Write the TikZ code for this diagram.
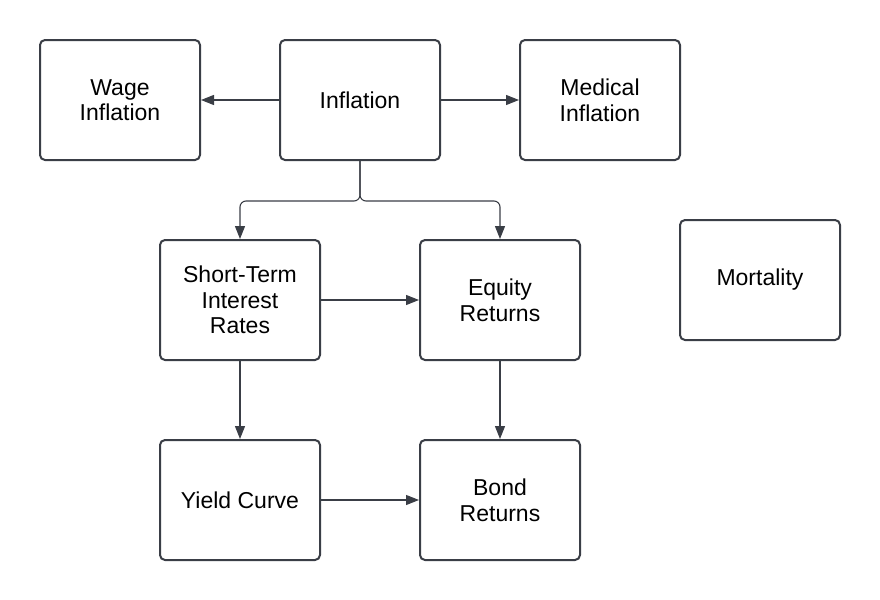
\documentclass[tikz,border=0pt]{standalone}
\usepackage{fontspec}
\setmainfont{Liberation Sans}
\usepackage{tikz}
\usetikzlibrary{positioning}
\usetikzlibrary{arrows.meta}

\definecolor{edgegray}{HTML}{3A3E46}

\begin{document}
\begin{tikzpicture}[
    node distance=100pt and 120pt, % Global setup of box spacing
    ]
% -------------------------------------------------
\tikzset{
  base/.style={draw=edgegray, line width=1pt, rounded corners=2.5pt, on grid, align=center,
    font=\fontsize{11.5}{12.8}\selectfont, text=black},
  proc/.style={base, rectangle, minimum width=80pt, minimum height=60pt},
  line/.style={draw=edgegray, line width=0.55pt, -{Triangle[length=6.5pt,width=5pt]}}
}

\useasboundingbox (0,0) rectangle (440pt,-300pt);

\node [proc] (infl) at (180pt,-50pt) {Inflation};
\node [proc, left=of infl] (wage) {Wage\\Inflation};
\node [proc, right=of infl] (med) {Medical\\Inflation};

\node [proc, below=of infl, xshift=-60pt] (short) {Short-Term\\Interest\\Rates};
\node [proc, right=130pt of short] (eq) {Equity\\Returns};
\node [proc, right=130pt of eq, yshift=10pt] (mort) {Mortality};

\node [proc, below=of short] (yield) {Yield Curve};
\node [proc, right=130pt of yield] (bond) {Bond\\Returns};

\coordinate [below=20pt of infl.south] (split);

\path [line] (infl) -- (wage);
\path [line] (infl) -- (med);
\path [line, rounded corners=3pt] (infl.south) -- (split) -| (short.north);
\path [line, rounded corners=3pt] (infl.south) -- (split) -| (eq.north);
\path [line] (short) -- (eq);
\path [line] (short) -- (yield);
\path [line] (eq) -- (bond);
\path [line] (yield) -- (bond);

\end{tikzpicture}
\end{document}
